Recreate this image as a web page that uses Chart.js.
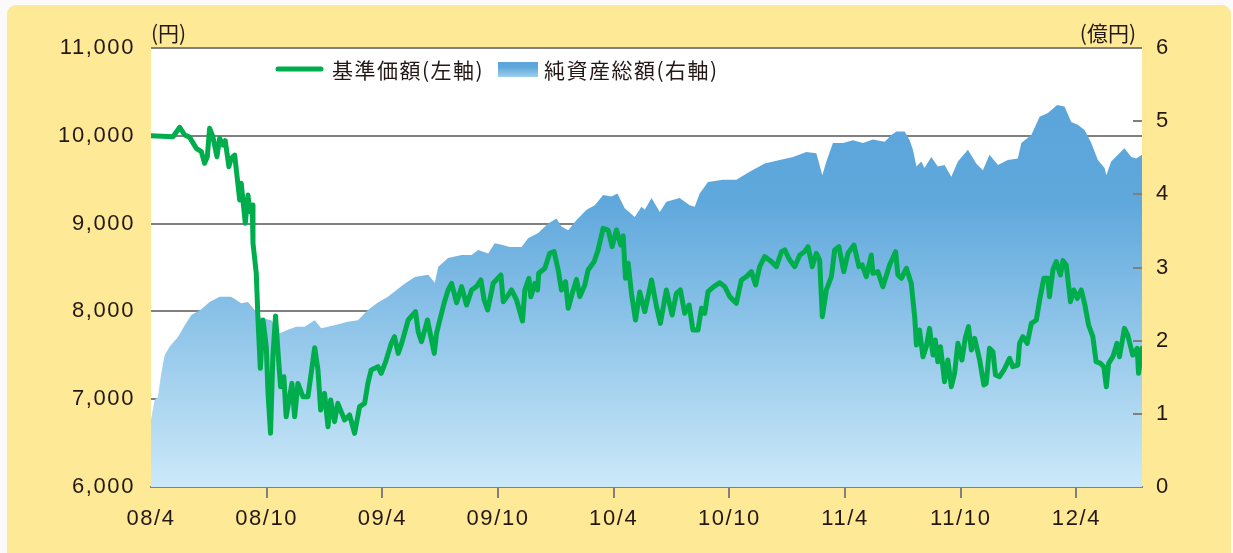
<!DOCTYPE html>
<html>
<head>
<meta charset="utf-8">
<script src="https://cdn.jsdelivr.net/npm/chart.js@4/dist/chart.umd.min.js"></script>
<style>
  html, body { margin: 0; padding: 0; background: #fafafa; }
  #frame { position: absolute; left: 7px; top: 5px; width: 1224px; height: 560px;
           background: #fee996; border-radius: 9px; }
  #wrap { position: absolute; left: 0; top: 0; width: 1233px; height: 553px; }
</style>
</head>
<body>
<div id="frame"></div>
<div id="wrap"><canvas id="fundChart" width="1233" height="553"></canvas></div>
<script>
// ================= DATA =================
// x = months since 2008/4
const xTickMonths = [0, 6, 12, 18, 24, 30, 36, 42, 48];
const xTickLabels = ["08/4", "08/10", "09/4", "09/10", "10/4", "10/10", "11/4", "11/10", "12/4"];

// 基準価額 (円, left axis)
const navMonths = [
  0, 1.14, 1.49, 1.75, 2.0, 2.35, 2.61, 2.78, 2.92, 3.04, 3.21, 3.42, 3.56, 3.73, 3.85, 4.04, 4.16, 4.34,
  4.6, 4.68, 4.89, 5.03, 5.12, 5.25, 5.29, 5.46, 5.55, 5.67, 5.81, 5.98, 6.07, 6.2, 6.32, 6.46, 6.58, 6.72,
  6.89, 7.01, 7.31, 7.45, 7.62, 7.88, 8.14, 8.49, 8.66, 8.8, 9.0, 9.18, 9.32, 9.52, 9.69, 10.04, 10.3, 10.56,
  10.82, 11.08, 11.25, 11.42, 11.77, 11.94, 12.2, 12.46, 12.63, 12.82, 13.0, 13.34, 13.72, 13.86, 14.03, 14.34,
  14.55, 14.69, 14.81, 14.98, 15.2, 15.41, 15.59, 15.85, 16.11, 16.37, 16.63, 16.88, 17.11, 17.28, 17.46, 17.75,
  18.15, 18.27, 18.53, 18.7, 18.96, 19.27, 19.39, 19.6, 19.7, 19.91, 20.05, 20.11, 20.43, 20.68, 20.91, 21.12,
  21.29, 21.5, 21.64, 21.85, 22.07, 22.24, 22.5, 22.67, 22.98, 23.19, 23.45, 23.71, 23.92, 24.14, 24.37, 24.49,
  24.61, 24.75, 24.92, 25.13, 25.35, 25.61, 25.96, 26.22, 26.42, 26.73, 27.03, 27.25, 27.46, 27.68, 27.91, 28.11,
  28.37, 28.55, 28.72, 28.89, 29.19, 29.5, 29.76, 30.02, 30.36, 30.62, 30.88, 31.14, 31.36, 31.57, 31.83, 32.18,
  32.44, 32.7, 32.87, 33.13, 33.39, 33.65, 33.9, 34.08, 34.3, 34.51, 34.68, 34.82, 35.03, 35.29, 35.46, 35.68,
  35.93, 36.15, 36.46, 36.72, 36.89, 37.1, 37.36, 37.44, 37.7, 37.96, 38.31, 38.62, 38.74, 38.92, 39.18, 39.43,
  39.61, 39.7, 39.86, 40.04, 40.21, 40.38, 40.56, 40.68, 40.81, 40.95, 41.16, 41.33, 41.51, 41.68, 41.85, 42.06,
  42.23, 42.4, 42.55, 42.72, 42.98, 43.2, 43.32, 43.49, 43.67, 43.8, 44.01, 44.24, 44.53, 44.7, 44.96, 45.05,
  45.22, 45.45, 45.66, 45.92, 46.09, 46.31, 46.52, 46.6, 46.78, 46.95, 47.17, 47.3, 47.47, 47.69, 47.86, 48.04,
  48.25, 48.42, 48.63, 48.85, 49.02, 49.25, 49.42, 49.55, 49.67, 49.89, 50.1, 50.23, 50.49, 50.66, 50.92, 51.15,
  51.22, 51.4
];
const navValues = [
  10000, 9990, 10097, 10009, 9985, 9857, 9819, 9687, 9762, 10085, 9990, 9762, 9971, 9895, 9944, 9648, 9744, 9781,
  9269, 9459, 9003, 9326, 9136, 9212, 8776, 8434, 7902, 7352, 7902, 7598, 7067, 6612, 7484, 7948, 7560, 7142,
  7256, 6800, 7180, 6800, 7180, 7028, 7028, 7587, 7333, 6877, 7067, 6687, 6991, 6744, 6953, 6763, 6820, 6611,
  6915, 6953, 7181, 7333, 7370, 7295, 7446, 7636, 7712, 7522, 7636, 7902, 7997, 7769, 7655, 7902,
  7674, 7522, 7750, 7902, 8092, 8244, 8320, 8099, 8282, 8073, 8244, 8282, 8358, 8130, 8016, 8320,
  8415, 8111, 8187, 8244, 8130, 7891, 8244, 8377, 8168, 8320, 8244, 8434, 8491, 8662, 8680, 8472,
  8244, 8339, 8035, 8206, 8365, 8168, 8301, 8472, 8566, 8700, 8946, 8927, 8737, 8927, 8756, 8859,
  8377, 8548, 8206, 7902, 8220, 7997, 8358, 8054, 7864, 8244, 7959, 8206, 8244, 7978, 8073, 7788,
  7788, 8035, 7978, 8225, 8282, 8327, 8282, 8168, 8092, 8358, 8396, 8453, 8301, 8510, 8624, 8567,
  8510, 8680, 8700, 8585, 8510, 8642, 8680, 8737, 8510, 8662, 8585, 7940, 8244, 8396, 8700, 8737,
  8453, 8662, 8756, 8510, 8529, 8396, 8642, 8434, 8453, 8282, 8529, 8680, 8415, 8377, 8491, 8320,
  7940, 7617, 7788, 7484, 7598, 7807, 7503, 7674, 7427, 7598, 7199, 7446, 7142, 7295, 7636, 7446,
  7693, 7826, 7560, 7693, 7446, 7162, 7180, 7579, 7541, 7275, 7256, 7333, 7465, 7370, 7389, 7636,
  7712, 7636, 7864, 7902, 8130, 8377, 8377, 8168, 8472, 8567, 8415, 8578, 8529, 8111, 8244, 8149,
  8244, 8092, 7845, 7712, 7427, 7408, 7370, 7142, 7408, 7484, 7636, 7484, 7807, 7731, 7503, 7579,
  7295, 7579
];

// 純資産総額 (億円, right axis)
const assetMonths = [
  0, 0.19, 0.36, 0.53, 0.71, 0.97, 1.4, 1.75, 2.09, 2.61, 3.04, 3.56, 4.16, 4.68, 5.03, 5.37, 5.72, 6.24,
  6.67, 7.1, 7.53, 7.97, 8.49, 8.83, 9.52, 10.21, 10.73, 11.25, 11.77, 12.29, 12.72, 13.17, 13.69, 14.38,
  14.72, 14.9, 15.41, 16.11, 16.63, 16.97, 17.49, 17.83, 18.18, 18.61, 19.22, 19.56, 20.08, 20.6, 21.03,
  21.29, 21.64, 22.07, 22.59, 23.02, 23.45, 23.88, 24.19, 24.57, 25.09, 25.44, 25.61, 25.96, 26.39, 26.73,
  27.42, 27.94, 28.2, 28.46, 28.89, 29.67, 30.36, 31.05, 31.83, 32.61, 33.3, 33.99, 34.51, 34.82, 35.03,
  35.37, 35.89, 36.41, 36.93, 37.44, 38.05, 38.4, 38.66, 39.09, 39.35, 39.52, 39.7, 39.95, 40.12, 40.47,
  40.81, 41.16, 41.51, 41.85, 42.37, 42.8, 43.15, 43.49, 43.93, 44.44, 44.96, 45.14, 45.66, 46.09, 46.52,
  47.0, 47.38, 47.73, 48.07, 48.42, 48.77, 49.11, 49.46, 49.55, 49.8, 50.15, 50.49, 50.84, 51.1, 51.4
];
const assetValues = [
  0.92, 1.19, 1.23, 1.55, 1.80, 1.92, 2.05, 2.21, 2.35, 2.43, 2.53, 2.60, 2.60, 2.51, 2.53, 2.42, 2.31, 2.28,
  2.10, 2.15, 2.19, 2.19, 2.28, 2.17, 2.21, 2.26, 2.28, 2.42, 2.52, 2.60, 2.69, 2.78, 2.87, 2.90,
  2.79, 3.01, 3.13, 3.17, 3.17, 3.24, 3.19, 3.33, 3.31, 3.28, 3.28, 3.40, 3.47, 3.60, 3.67,
  3.56, 3.51, 3.65, 3.79, 3.85, 3.99, 3.97, 4.01, 3.81, 3.69, 3.83, 3.79, 3.95, 3.76, 3.90,
  3.95, 3.85, 3.83, 4.01, 4.17, 4.20, 4.20, 4.31, 4.42, 4.47, 4.51, 4.58, 4.56, 4.26, 4.45,
  4.70, 4.70, 4.74, 4.70, 4.75, 4.72, 4.81, 4.86, 4.86, 4.74, 4.61, 4.38, 4.45, 4.36, 4.51,
  4.38, 4.40, 4.24, 4.45, 4.61, 4.42, 4.33, 4.54, 4.40, 4.47, 4.49, 4.70, 4.81, 5.06, 5.11,
  5.22, 5.20, 4.99, 4.95, 4.88, 4.70, 4.47, 4.36, 4.26, 4.45, 4.54, 4.63, 4.51, 4.49, 4.54
];

// ================= STYLE =================
const gridColor = "#808081";
const textColor = "#231815";
const lineGreen = "#00ad4c";
const numFont = { family: "'Liberation Sans', Arial, sans-serif", size: 22 };
const jpFont = "21px 'Noto Sans CJK JP', sans-serif";

function areaGradient(ctx, top, bottom) {
  const g = ctx.createLinearGradient(0, top, 0, bottom);
  g.addColorStop(0, "#59a3da");
  g.addColorStop(0.35, "#5fa8dc");
  g.addColorStop(1, "#cce9f9");
  return g;
}

// ================= PLUGINS =================
const framePlugin = {
  id: "frame",
  beforeLayout(chart) {
    chart.ctx.letterSpacing = "1.6px";
  },
  beforeDraw(chart) {
    const { ctx, chartArea: a } = chart;
    ctx.save();
    ctx.fillStyle = "#ffffff";
    ctx.fillRect(a.left, a.top, a.right - a.left, a.bottom - a.top);
    ctx.restore();
  },
  afterDatasetsDraw(chart) {
    // right axis tick marks, drawn inside the plot
    const { ctx, chartArea: a } = chart;
    const y1 = chart.scales.y1;
    ctx.save();
    ctx.strokeStyle = gridColor;
    ctx.lineWidth = 2;
    y1.ticks.forEach(t => {
      if (t.value <= 0 || t.value >= 6) return;
      const y = Math.round(y1.getPixelForValue(t.value));
      ctx.beginPath();
      ctx.moveTo(a.right - 9, y);
      ctx.lineTo(a.right, y);
      ctx.stroke();
    });
    ctx.restore();
  },
  afterDraw(chart) {
    const { ctx } = chart;
    ctx.save();
    ctx.letterSpacing = "0px";
    ctx.fillStyle = textColor;
    ctx.font = jpFont;
    ctx.textBaseline = "middle";
    ctx.textAlign = "left";
    ctx.fillText("(円)", 151, 33);
    ctx.textAlign = "right";
    ctx.fillText("(億円)", 1136, 33);

    // legend
    ctx.strokeStyle = lineGreen;
    ctx.lineWidth = 5;
    ctx.lineCap = "round";
    ctx.beginPath();
    ctx.moveTo(278, 69);
    ctx.lineTo(321, 69);
    ctx.stroke();
    ctx.letterSpacing = "1.5px";
    ctx.textAlign = "left";
    ctx.fillText("基準価額(左軸)", 332, 70);
    ctx.fillStyle = areaGradient(ctx, 58, 84);
    ctx.fillRect(498, 62, 40, 15);
    ctx.fillStyle = textColor;
    ctx.fillText("純資産総額(右軸)", 544, 70);
    ctx.restore();
  }
};

// ================= CHART =================
const navPoints = navMonths.map((m, i) => ({ x: m, y: navValues[i] }));
const assetPoints = assetMonths.map((m, i) => ({ x: m, y: assetValues[i] }));

new Chart(document.getElementById("fundChart"), {
  type: "line",
  data: {
    datasets: [
      {
        label: "基準価額（左軸）",
        data: navPoints,
        yAxisID: "y",
        borderColor: lineGreen,
        borderWidth: 5,
        borderJoinStyle: "round",
        borderCapStyle: "round",
        pointRadius: 0,
        tension: 0,
        fill: false
      },
      {
        label: "純資産総額（右軸）",
        data: assetPoints,
        yAxisID: "y1",
        borderWidth: 0,
        pointRadius: 0,
        tension: 0,
        fill: "start",
        backgroundColor: ctx => {
          const a = ctx.chart.chartArea;
          if (!a) return "#5fa8dc";
          return areaGradient(ctx.chart.ctx, a.top, a.bottom);
        }
      }
    ]
  },
  options: {
    responsive: false,
    animation: false,
    events: [],
    layout: { padding: { top: 48, left: 0, right: 0, bottom: 0 } },
    plugins: { legend: { display: false }, tooltip: { enabled: false } },
    scales: {
      x: {
        type: "linear",
        min: 0,
        max: 51.4,
        z: 1,
        afterBuildTicks: s => { s.ticks = xTickMonths.map(v => ({ value: v })); },
        afterFit: s => { s.height = 66; },
        ticks: {
          autoSkip: false,
          maxRotation: 0,
          padding: 8,
          color: textColor,
          font: numFont,
          callback: v => xTickLabels[xTickMonths.indexOf(v)]
        },
        grid: {
          drawOnChartArea: false,
          drawTicks: true,
          tickLength: 11,
          lineWidth: 2,
          color: c => (c.tick && c.tick.value === 0 ? "rgba(0,0,0,0)" : gridColor)
        },
        border: { display: true, color: gridColor, width: 2 }
      },
      y: {
        position: "left",
        min: 6000,
        max: 11000,
        afterFit: s => { s.width = 151; },
        ticks: {
          stepSize: 1000,
          padding: 16,
          color: textColor,
          font: numFont,
          callback: v => v.toLocaleString("en-US")
        },
        grid: { color: gridColor, lineWidth: 2, drawTicks: false },
        border: { display: false }
      },
      y1: {
        position: "right",
        min: 0,
        max: 6,
        afterFit: s => { s.width = 91; },
        ticks: {
          stepSize: 1,
          padding: 14,
          color: textColor,
          font: numFont
        },
        grid: { display: false, drawTicks: false, drawOnChartArea: false },
        border: { display: false }
      }
    }
  },
  plugins: [framePlugin]
});
</script>
</body>
</html>
